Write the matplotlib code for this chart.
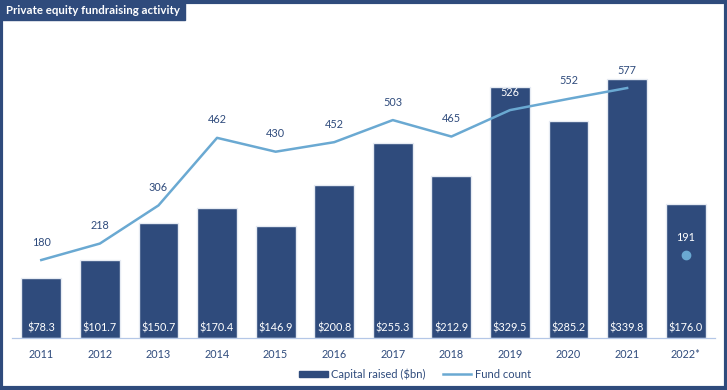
import numpy as np
import matplotlib.pyplot as plt
from matplotlib.patches import Rectangle

years = ['2011', '2012', '2013', '2014', '2015', '2016', '2017', '2018', '2019', '2020', '2021', '2022*']
capital = [78.3, 101.7, 150.7, 170.4, 146.9, 200.8, 255.3, 212.9, 329.5, 285.2, 339.8, 176.0]
funds = [180, 218, 306, 462, 430, 452, 503, 465, 526, 552, 577]
funds_2022 = 191

navy = '#2f4b7c'
light = '#6aa9d2'
plt.rcParams['font.family'] = ['Lato', 'DejaVu Sans']

fig = plt.figure(figsize=(7.27, 3.90), dpi=100)
ax = fig.add_axes([12/727, 52/390, 703/727, 318/390])
ax2 = ax.twinx()

x = np.arange(len(years))
ax.bar(x, capital, width=0.68, color=navy, edgecolor='#e6ebf3', linewidth=1, zorder=2)
for i, v in enumerate(capital):
    ax.text(i, 6, '$%.1f' % v, color='white', ha='center', va='bottom', fontsize=7.8, zorder=3)

ax.set_xlim(-0.5, 11.5)
ax.set_ylim(0, 417)
ax2.set_ylim(0, 734)
ax.set_xticks(x)
ax.set_xticklabels(years, color=navy, fontsize=7.8)
ax.tick_params(axis='x', length=0, pad=8)
ax.set_yticks([])
ax2.set_yticks([])
for a in (ax, ax2):
    for s in ['top', 'left', 'right']:
        a.spines[s].set_visible(False)
    a.spines['bottom'].set_color('#b4c7e7')
ax.set_facecolor('none')

ax2.plot(x[:-1], funds, color=light, linewidth=1.8, zorder=4)
for i, v in enumerate(funds):
    # 2019 label sits on the bar, so it is white there
    c = 'white' if years[i] == '2019' else navy
    ax2.annotate(str(v), (i, v), xytext=(0, 9), textcoords='offset points', ha='center',
                 va='bottom', color=c, fontsize=7.8)
ax2.plot([11], [funds_2022], 'o', color=light, markersize=6)
ax2.annotate(str(funds_2022), (11, funds_2022), xytext=(0, 9), textcoords='offset points',
             ha='center', va='bottom', color='white', fontsize=7.8)

h1 = Rectangle((0, 0), 1, 1, color=navy)
h2, = ax.plot([], [], color=light, linewidth=1.8)
fig.legend([h1, h2], ['Capital raised ($bn)', 'Fund count'], loc='center', ncol=2,
           bbox_to_anchor=(415/727, 1 - 374/390), frameon=False, fontsize=8,
           labelcolor=navy, handlelength=2.6, handleheight=0.5, columnspacing=1.5, handletextpad=0.3)

# frame and title box
fig.patches.append(Rectangle((0.002, 0.004), 0.996, 0.992, transform=fig.transFigure,
                             fill=False, edgecolor=navy, linewidth=3))
title = fig.text(6/727, 1 - 10/390, 'Private equity fundraising activity', color='white',
                 fontsize=8.3, fontweight='bold', va='center', ha='left', zorder=5)
fig.canvas.draw()
tw = title.get_window_extent().x1 + 5
fig.patches.append(Rectangle((0, 1 - 20/390), tw/727, 20/390, transform=fig.transFigure,
                             color=navy))

fig.savefig('out.png', dpi=100)
